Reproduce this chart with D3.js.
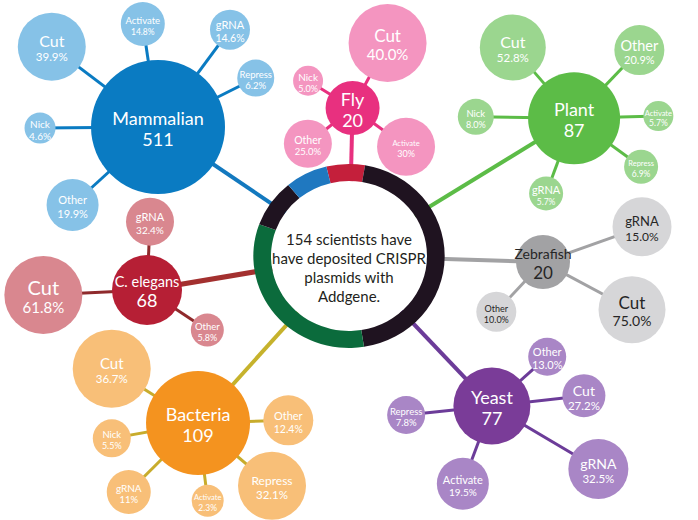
<!DOCTYPE html>
<html><head><meta charset="utf-8">
<script src="https://cdn.jsdelivr.net/npm/d3@7"></script>
<style>body{margin:0;background:#fff}svg{display:block}</style>
</head><body><svg id="chart" width="698" height="520"></svg>
<script>
// ---------- DATA ----------
const hosts = ["Mammalian", "Fly", "Plant", "Zebrafish", "Yeast", "Bacteria", "C. elegans"];
const hostCounts = [511, 20, 87, 20, 77, 109, 68];

const mammalianTypes = ["Cut", "Activate", "gRNA", "Repress", "Nick", "Other"];
const mammalianShare = ["39.9%", "14.8%", "14.6%", "6.2%", "4.6%", "19.9%"];
const flyTypes = ["Cut", "Nick", "Other", "Activate"];
const flyShare = ["40.0%", "5.0%", "25.0%", "30%"];
const plantTypes = ["Cut", "Other", "Nick", "Activate", "Repress", "gRNA"];
const plantShare = ["52.8%", "20.9%", "8.0%", "5.7%", "6.9%", "5.7%"];
const zebrafishTypes = ["gRNA", "Cut", "Other"];
const zebrafishShare = ["15.0%", "75.0%", "10.0%"];
const yeastTypes = ["Other", "Cut", "gRNA", "Activate", "Repress"];
const yeastShare = ["13.0%", "27.2%", "32.5%", "19.5%", "7.8%"];
const bacteriaTypes = ["Cut", "Nick", "gRNA", "Activate", "Repress", "Other"];
const bacteriaShare = ["36.7%", "5.5%", "11%", "2.3%", "32.1%", "12.4%"];
const celegansTypes = ["gRNA", "Cut", "Other"];
const celegansShare = ["32.4%", "61.8%", "5.8%"];

const centerLines = ["154 scientists have", "have deposited CRISPR", "plasmids with", "Addgene."];
const ringValues = [10, 69, 51, 13, 11];   // scientists per ring segment (sum 154)

// ---------- LAYOUT / STYLE ----------
const W = 698, H = 520;
const FONT = "Lato, 'Open Sans', sans-serif";
const ringCenter = [349, 256];
const ringOuter = 92, ringInner = 75, ringStretchX = 1.04;
const ringStartDeg = -13.7;
const ringColors = ["#c41f3b", "#1f1320", "#0b6b3c", "#1f1320", "#1f78c0"];

// hub placement: angle (deg, clockwise from up), distance from ring centre, radius, font sizes
const hubLayout = [
  {a: -56.1, d: 231.3, r: 67, fs: [18, 18]},
  {a: 1.0,   d: 148,   r: 27, fs: [18, 18]},
  {a: 58.4,  d: 263.1, r: 46, fs: [18, 18]},
  {a: 91.8,  d: 193.1, r: 27, fs: [14, 17]},
  {a: 136.6, d: 206.5, r: 38.5, fs: [18, 18]},
  {a: -137.7, d: 225.8, r: 52, fs: [18, 18]},
  {a: -99.5, d: 205.8, r: 35, fs: [14.5, 18]}
];
const hubOrigin = [350, 256];
// satellite placement relative to hub: [angle, distance, radius, label font, pct font]
const satLayout = [
  [[-52.9,133.2,34,16,11.5],[-8.4,104.1,22,9.5,8.5],[36.5,121,20,11,10.5],[63.4,109.3,18.5,9.5,9.5],[-90.5,118,15.5,10,10],[-132.4,115.7,26,11,11]],
  [[28.3,73.8,39,17,15],[-58.5,52.2,15,10,9],[-128.6,57.2,24,10.5,9.5],[125.9,66,29,7.5,9]],
  [[-40.9,93.6,33,16,11.5],[43.8,94.3,25,14.5,11],[-89.2,98.3,18,9.5,9],[88.6,84.3,15,7.5,8.5],[126,82.8,17,7.5,8.5],[-159.6,80.3,17,11,8.5]],
  [[70.4,105.1,29.5,13,12],[118.2,101,33.5,17,14],[-136.8,68.2,20,9,9]],
  [[48.3,74.1,19,11,11],[83.6,92.6,21.5,14,11.5],[120.6,123.7,30,14,11.5],[-159.5,82.9,26,11,10],[-96,86.2,19,9.5,9.5]],
  [[-57.8,102,39,15,11.5],[-100.1,87.6,19,9.5,9],[-134.9,97.8,22,10,9.5],[172.9,78.3,16,7.5,8.5],[130.3,97,34,12,11.5],[88.3,90.3,25,11,10.5]],
  [[2.5,68.4,24,11,10],[-92.8,103.8,39,20,15],[123.6,72.4,16.5,9.5,9]]
];
// [hub fill, satellite fill, satellite link, ring link, text colour, link width to ring]
const palette = [
  ["#0a7bc2", "#86c2e7", "#0a7bc2", "#1379bf", "#ffffff", 4],
  ["#e8307f", "#f495c0", "#e8307f", "#e8307f", "#ffffff", 4],
  ["#5cbc47", "#9bd68f", "#5cbc47", "#5cbc47", "#ffffff", 4],
  ["#a2a2a4", "#d6d6d8", "#a2a2a4", "#a2a2a4", "#262626", 4],
  ["#7a3c98", "#a986c6", "#6c3c99", "#6c3c99", "#ffffff", 4],
  ["#f4931f", "#f8bf78", "#c8ac2c", "#c6b22c", "#ffffff", 4],
  ["#b61f35", "#d9878f", "#8f2a2c", "#a3302f", "#ffffff", 5]
];

const typeLists = [mammalianTypes, flyTypes, plantTypes, zebrafishTypes, yeastTypes, bacteriaTypes, celegansTypes];
const shareLists = [mammalianShare, flyShare, plantShare, zebrafishShare, yeastShare, bacteriaShare, celegansShare];

// ---------- DRAW ----------
const svg = d3.select("#chart");
const rad = d => d * Math.PI / 180;
const polar = (c, a, d) => { const p = d3.pointRadial(rad(a), d); return [c[0] + p[0], c[1] + p[1]]; };

const hubData = hosts.map((name, i) => {
  const L = hubLayout[i];
  const c = polar(hubOrigin, L.a, L.d);
  const sats = typeLists[i].map((t, j) => {
    const s = satLayout[i][j];
    const p = polar(c, s[0], s[1]);
    return {type: t, share: shareLists[i][j], x: p[0], y: p[1], r: s[2], fsL: s[3], fsP: s[4]};
  });
  return {name, count: hostCounts[i], x: c[0], y: c[1], r: L.r, fs: L.fs, col: palette[i], sats};
});

// links hub -> ring
svg.append("g").selectAll("line").data(hubData).join("line")
  .attr("x1", d => d.x).attr("y1", d => d.y)
  .attr("x2", ringCenter[0]).attr("y2", ringCenter[1])
  .attr("stroke", d => d.col[3]).attr("stroke-width", d => d.col[5]);

// ring
const pie = d3.pie().sort(null).startAngle(rad(ringStartDeg)).endAngle(rad(ringStartDeg) + 2 * Math.PI);
const arc = d3.arc().innerRadius(ringInner).outerRadius(ringOuter);
const ringG = svg.append("g").attr("transform", `translate(${ringCenter})`);
const ring = ringG.append("g").attr("transform", `scale(${ringStretchX},1)`);
ring.append("circle").attr("r", ringInner).attr("fill", "#fff");
ring.selectAll("path").data(pie(ringValues)).join("path")
  .attr("d", arc).attr("fill", (d, i) => ringColors[i]);
ringG.append("text").attr("font-family", FONT).attr("font-size", 15).attr("fill", "#231f20")
  .attr("text-anchor", "middle")
  .selectAll("tspan").data(centerLines).join("tspan")
  .attr("x", 0).attr("y", (d, i) => -11 + i * 19).text(d => d);

// clusters
const groups = svg.append("g").selectAll("g").data(hubData).join("g");
groups.each(function(h) {
  const g = d3.select(this);
  g.selectAll("line").data(h.sats).join("line")
    .attr("x1", h.x).attr("y1", h.y).attr("x2", d => d.x).attr("y2", d => d.y)
    .attr("stroke", h.col[2]).attr("stroke-width", 3);
  const s = g.selectAll("g.sat").data(h.sats).join("g").attr("class", "sat");
  s.append("circle").attr("cx", d => d.x).attr("cy", d => d.y).attr("r", d => d.r).attr("fill", h.col[1]);
  s.each(function(d) {
    const capL = d.fsL * 0.72, capP = d.fsP * 0.72, gap = d.fsP * 0.5;
    const top = d.y - (capL + gap + capP) / 2 + 2;
    const t = d3.select(this).append("text").attr("font-family", FONT).attr("fill", h.col[4]).attr("text-anchor", "middle");
    t.append("tspan").attr("x", d.x).attr("y", top + capL).attr("font-size", d.fsL).text(d.type);
    t.append("tspan").attr("x", d.x).attr("y", top + capL + gap + capP).attr("font-size", d.fsP).text(d.share);
  });
  g.append("circle").attr("cx", h.x).attr("cy", h.y).attr("r", h.r).attr("fill", h.col[0]);
  const capL = h.fs[0] * 0.72, capP = h.fs[1] * 0.72, gap = h.fs[1] * 0.42;
  const top = h.y - (capL + gap + capP) / 2 + 2;
  const t = g.append("text").attr("font-family", FONT).attr("fill", h.col[4]).attr("text-anchor", "middle");
  t.append("tspan").attr("x", h.x).attr("y", top + capL).attr("font-size", h.fs[0]).text(h.name);
  t.append("tspan").attr("x", h.x).attr("y", top + capL + gap + capP).attr("font-size", h.fs[1]).text(h.count);
});
</script></body></html>
